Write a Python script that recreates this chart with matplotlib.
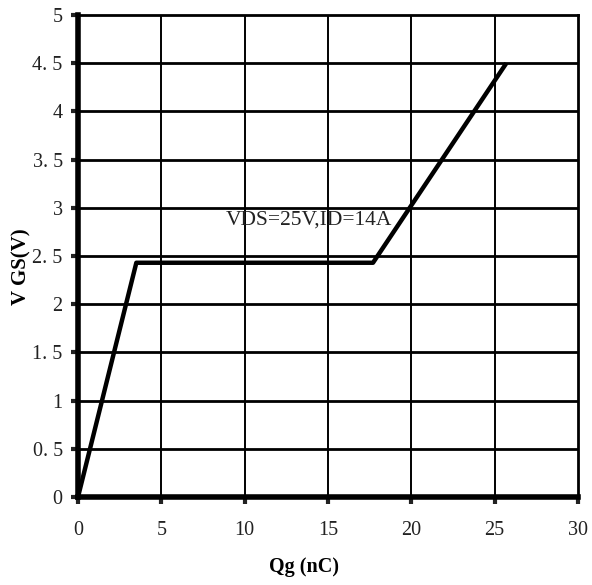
import matplotlib
matplotlib.use("Agg")
import matplotlib.pyplot as plt

qg = [0, 3.5, 17.7, 25.7]
vgs = [0, 2.43, 2.43, 4.5]
xticks = [0, 5, 10, 15, 20, 25, 30]
yticks = [0, 0.5, 1, 1.5, 2, 2.5, 3, 3.5, 4, 4.5, 5]
ytick_labels = ["0", "0. 5", "1", "1. 5", "2", "2. 5", "3", "3. 5", "4", "4. 5", "5"]
annotation = "VDS=25V,ID=14A"

plt.rcParams['font.family'] = ['Liberation Serif', 'DejaVu Serif']

fig = plt.figure(figsize=(5.92, 5.85), dpi=100)
ax = fig.add_axes([78/592, 1-497/585, 500/592, 482/585])

ax.set_xlim(0, 30)
ax.set_ylim(0, 5)
ax.set_xticks(xticks)
ax.set_yticks(yticks)
ax.set_yticklabels(ytick_labels)

for x in xticks[1:-1]:
    ax.axvline(x, color='black', lw=1.4, zorder=1)
for y in yticks[1:-1]:
    ax.axhline(y, color='black', lw=2.0, zorder=1)

ax.plot(qg, vgs, color='black', lw=3.2, solid_capstyle='butt', zorder=3)

ax.text(8.85, 2.87, annotation, fontsize=15.5, va='center', ha='left', color='#222222')

for s in ['top', 'right']:
    ax.spines[s].set_linewidth(2)
for s in ['left', 'bottom']:
    ax.spines[s].set_linewidth(4)

ax.tick_params(axis='both', direction='out', length=5, width=3, labelsize=14.5, colors='#222222')
ax.tick_params(axis='x', pad=12)
ax.tick_params(axis='y', pad=6)

ax.set_xlabel("Qg (nC)", fontsize=14.5, fontweight='bold')
ax.set_ylabel("V GS(V)", fontsize=15, fontweight='bold')
ax.xaxis.set_label_coords(0.452, -0.124)
ax.yaxis.set_label_coords(-0.094, 0.477)

fig.savefig("out.png", dpi=100)
